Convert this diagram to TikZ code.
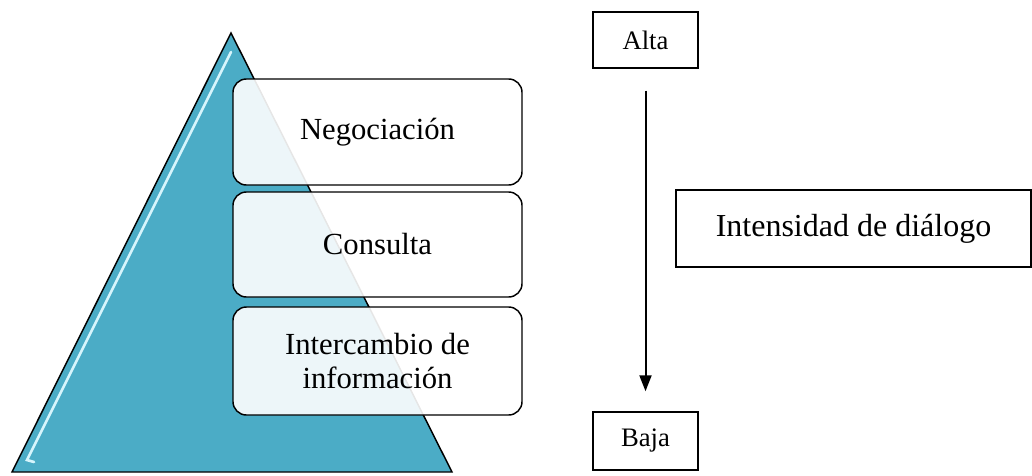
\documentclass[tikz,border=0pt]{standalone}
\usepackage{fontspec}
\setmainfont{Liberation Serif}
\usetikzlibrary{arrows.meta}
\definecolor{pyr}{RGB}{75,172,198}
\definecolor{pyrhi}{RGB}{215,245,252}
\tikzset{
  lvl/.style={draw=black, line width=1.1pt, rounded corners=10pt, fill=white, fill opacity=0.9, text opacity=1,
    minimum width=216.75pt, align=center, inner sep=0pt, font=\fontsize{23}{25}\selectfont},
  tag/.style={draw=black, line width=1.1pt, fill=white, inner sep=0pt, font=\fontsize{20}{22}\selectfont,
    minimum width=78.75pt},
}
\begin{document}
\begin{tikzpicture}[x=0.75pt, y=-0.75pt]
\useasboundingbox (0,0) rectangle (1032,475);
% pyramid
\coordinate (apex) at (231,33);
\coordinate (bl) at (12,472);
\coordinate (br) at (452,472);
\fill[pyr] (apex) -- (bl) -- (br) -- cycle;
\draw[pyrhi, line width=2pt, line cap=round] (231,52) -- (27,460) -- (34,462);
\draw[black, line width=1.1pt, line join=miter] (apex) -- (bl) -- (br) -- cycle;
% levels
\node[lvl, minimum height=79.5pt] (neg) at (377.5,132) {Negociación};
\node[lvl, minimum height=78.75pt] (con) at (377.5,244.5) {Consulta};
\node[lvl, minimum height=81pt] (inf) at (377.5,361) {Intercambio de\\información};
% scale
\node[tag, minimum height=42pt] (alta) at (645.5,40) {Alta};
\node[tag, minimum height=43.5pt] (baja) at (645.5,441) {Baja};
\draw[line width=1.5pt, -{Triangle[length=12pt,width=9pt]}, shorten <=16.5pt, shorten >=15pt] (alta.south) -- (baja.north);
\node[draw=black, line width=1.1pt, minimum width=266.25pt, minimum height=57.75pt, inner sep=0pt,
  font=\fontsize{24}{26}\selectfont] (int) at (853.5,228.5) {Intensidad de diálogo};
\end{tikzpicture}
\end{document}
